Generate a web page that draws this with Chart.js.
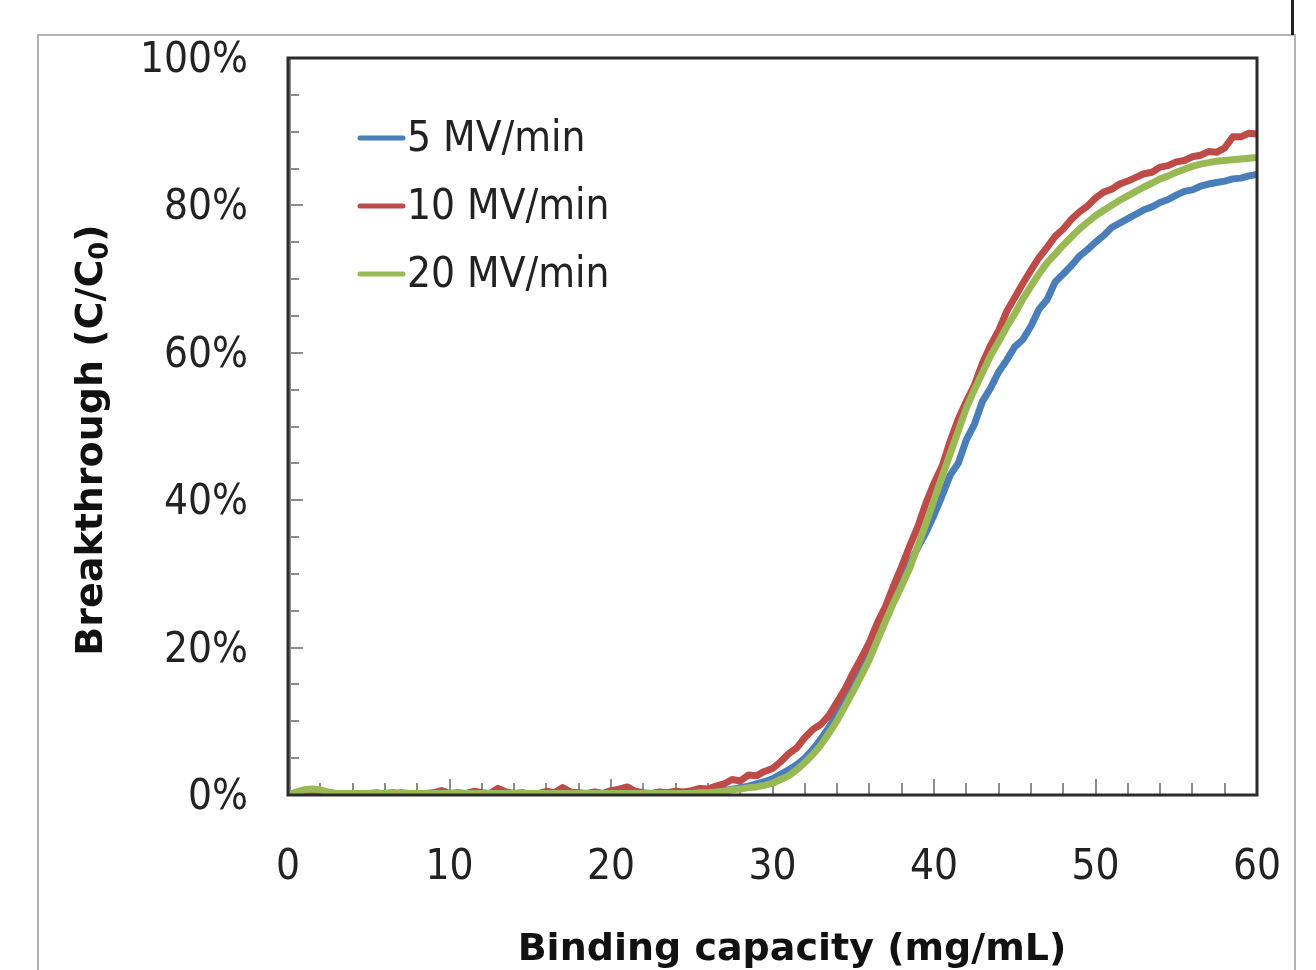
<!DOCTYPE html>
<html lang="en">
<head>
    <meta charset="utf-8" />
    <title>Breakthrough curves</title>
    <script src="https://cdn.jsdelivr.net/npm/chart.js"></script>
    <style>
        html, body { margin: 0; padding: 0; background: #fff; }
        #wrap { position: relative; width: 1316px; height: 970px; overflow: hidden; }
        .frame { position: absolute; left: 37px; top: 34px; width: 1255px; height: 1000px; border: 2px solid #b4b4b4; }
        .mark { position: absolute; left: 1291px; top: 0; width: 3px; height: 35px; background: #222; }
        canvas { position: absolute; left: 0; top: 0; }
    </style>
</head>
<body>
    <div id="wrap">
        <div class="frame"></div>
        <div class="mark"></div>
        <canvas id="chart" width="1316" height="970"></canvas>
    </div>

    <script>
        // binding capacity (mg/mL), one reading every 0.5
        const capacity = [
            0, 0.5, 1, 1.5, 2, 2.5, 3, 3.5, 4, 4.5, 5, 5.5, 6, 6.5, 7, 7.5, 8, 8.5, 9, 9.5,
            10, 10.5, 11, 11.5, 12, 12.5, 13, 13.5, 14, 14.5, 15, 15.5, 16, 16.5, 17, 17.5, 18, 18.5, 19, 19.5,
            20, 20.5, 21, 21.5, 22, 22.5, 23, 23.5, 24, 24.5, 25, 25.5, 26, 26.5, 27, 27.5, 28, 28.5, 29, 29.5,
            30, 30.5, 31, 31.5, 32, 32.5, 33, 33.5, 34, 34.5, 35, 35.5, 36, 36.5, 37, 37.5, 38, 38.5, 39, 39.5,
            40, 40.5, 41, 41.5, 42, 42.5, 43, 43.5, 44, 44.5, 45, 45.5, 46, 46.5, 47, 47.5, 48, 48.5, 49, 49.5,
            50, 50.5, 51, 51.5, 52, 52.5, 53, 53.5, 54, 54.5, 55, 55.5, 56, 56.5, 57, 57.5, 58, 58.5, 59, 59.5,
            60
        ];

        // breakthrough C/C0 in %
        const mv5 = [
            0, 0.1, 0.2, 0.3, 0.2, 0.1, 0.1, 0.2, 0.1, 0.2, 0.2, 0.3, 0.1, 0.2, 0.3, 0.2, 0.1, 0.2, 0.1, 0.2,
            0.1, 0.1, 0.2, 0.2, 0.1, 0.2, 0.1, 0.2, 0.2, 0.1, 0.2, 0.1, 0.2, 0.2, 0.1, 0.2, 0.1, 0.2, 0.1, 0.2,
            0.1, 0.2, 0.1, 0.2, 0.1, 0.2, 0.1, 0.2, 0.2,
            0.2, 0.2, 0.3, 0.3, 0.5, 0.6, 0.8, 1.0, 1.2, 1.5,
            1.8, 2.2, 2.8, 3.4, 4.1, 5.0, 6.2, 7.6, 9.2, 10.9,
            12.9, 15.0, 17.0, 19.2, 21.6, 24.0, 26.4, 28.8, 31.4, 33.6,
            35.6, 38.0, 40.6, 43.4, 45.0, 48.2, 50.3, 53.4, 55.2, 57.4,
            59.0, 60.8, 61.8, 63.6, 65.9, 67.2, 69.6, 70.7, 71.8, 73.1,
            74.0, 75.0, 75.9, 77.0, 77.6, 78.2, 78.8, 79.4, 79.8, 80.4,
            80.8, 81.4, 81.9, 82.1, 82.6, 82.9, 83.1, 83.3, 83.6, 83.7,
            84.0, 84.2
        ];
        const mv10 = [
            0, 0.2, 0.3, 0.2, 0.1, 0.1, 0.1, 0.1, 0.1, 0.2, 0.1, 0.1, 0.2, 0.3, 0.1, 0.2, 0.1, 0.2, 0.3, 0.6,
            0.2, 0.3, 0.2, 0.5, 0.3, 0.2, 0.9, 0.4, 0.2, 0.3, 0.1, 0.2, 0.5, 0.3, 1.0, 0.4, 0.3, 0.2, 0.4, 0.2,
            0.6, 0.8, 1.1, 0.5, 0.3, 0.2, 0.4, 0.3, 0.5,
            0.4, 0.6, 0.9, 0.8, 1.2, 1.5, 2.1, 1.9, 2.7, 2.6,
            3.2, 3.6, 4.5, 5.6, 6.4, 7.8, 8.9, 9.6, 10.8, 12.6,
            14.4, 16.6, 18.6, 20.7, 23.4, 25.6, 28.4, 31.0, 33.8, 36.4,
            39.6, 42.3, 44.6, 48.0, 51.0, 53.4, 55.6, 58.6, 61.0, 63.0,
            65.6, 67.5, 69.4, 71.2, 72.9, 74.3, 75.8, 76.8, 78.1, 79.1,
            79.9, 81.0, 81.8, 82.2, 82.9, 83.3, 83.8, 84.3, 84.5, 85.2,
            85.4, 85.9, 86.1, 86.6, 86.8, 87.3, 87.2, 87.8, 89.3, 89.3,
            89.8, 89.7
        ];
        const mv20 = [
            0, 0.4, 0.7, 0.8, 0.7, 0.4, 0.2, 0.2, 0.2, 0.2, 0.2, 0.2, 0.2, 0.2, 0.2, 0.2, 0.2, 0.2, 0.2, 0.2,
            0.2, 0.2, 0.2, 0.2, 0.2, 0.2, 0.2, 0.2, 0.2, 0.2, 0.2, 0.2, 0.2, 0.2, 0.2, 0.2, 0.2, 0.2, 0.2, 0.2,
            0.2, 0.2, 0.2, 0.2, 0.2, 0.2, 0.2, 0.2, 0.2,
            0.2, 0.2, 0.3, 0.3, 0.4, 0.5, 0.7, 0.8, 1.0, 1.1,
            1.3, 1.6, 2.1, 2.6, 3.4, 4.4, 5.5, 6.8, 8.4, 10.1,
            12.1, 14.1, 16.2, 18.4, 21.0, 23.6, 26.1, 28.4, 30.8, 33.8,
            36.8, 40.0, 43.2, 46.3, 49.4, 52.5, 55.0, 57.3, 59.6, 61.5,
            63.5, 65.3, 67.3, 69.0, 70.7, 72.2, 73.4, 74.6, 75.7, 76.8,
            77.7, 78.6, 79.3, 80.0, 80.7, 81.3, 81.9, 82.5, 83.0, 83.6,
            84.0, 84.5, 84.9, 85.3, 85.6, 85.8, 86.0, 86.1, 86.2, 86.3,
            86.4, 86.5
        ];

        const seriesNames = ['5 MV/min', '10 MV/min', '20 MV/min'];
        const seriesColors = ['#4a7ebb', '#be4b48', '#98b954'];

        const xTicksMinor = [2, 4, 6, 8, 10, 12, 14, 16, 18, 20, 22, 24, 26, 28, 30, 32, 34, 36, 38, 40, 42, 44, 46, 48, 50, 52, 54, 56, 58];
        const yTicksMinor = [5, 10, 15, 20, 25, 30, 35, 40, 45, 50, 55, 60, 65, 70, 75, 80, 85, 90, 95];

        const xTitle = 'Binding capacity (mg/mL)';
        const yTitle = ['Breakthrough (C/C', '0', ')'];

        const tickFont = { family: '"DejaVu Sans Condensed", "DejaVu Sans", sans-serif', size: 42 };
        const boldFont = 'bold 38px "DejaVu Sans", sans-serif';

        const toPoints = vals => capacity.map((c, i) => ({ x: c, y: vals[i] }));

        // ticks inside the frame, the frame itself, legend and axis titles
        const decor = {
            id: 'decor',
            beforeDatasetsDraw(chart) {
                const { ctx, chartArea: a, scales: { x, y } } = chart;
                ctx.save();
                ctx.strokeStyle = '#8c8c8c';
                ctx.lineWidth = 2;
                ctx.beginPath();
                yTicksMinor.forEach(v => {
                    const py = Math.round(y.getPixelForValue(v));
                    ctx.moveTo(a.left, py);
                    ctx.lineTo(a.left + (v % 20 === 0 ? 15 : 11), py);
                });
                xTicksMinor.forEach(v => {
                    const px = Math.round(x.getPixelForValue(v));
                    ctx.moveTo(px, a.bottom);
                    ctx.lineTo(px, a.bottom - (v % 10 === 0 ? 16 : 12));
                });
                ctx.moveTo(a.left + 2, a.top);
                ctx.lineTo(a.left + 2, a.bottom);
                ctx.stroke();
                ctx.restore();
            },
            afterDatasetsDraw(chart) {
                const { ctx, chartArea: a } = chart;
                ctx.save();
                ctx.strokeStyle = '#2b2b2b';
                ctx.lineWidth = 3;
                ctx.strokeRect(a.left, a.top, a.right - a.left, a.bottom - a.top);
                ctx.restore();
            },
            afterDraw(chart) {
                const { ctx, chartArea: a } = chart;
                ctx.save();

                // legend
                ctx.font = '42px ' + tickFont.family;
                ctx.textBaseline = 'middle';
                ctx.textAlign = 'left';
                seriesNames.forEach((name, i) => {
                    const ly = a.top + 80 + i * 68;
                    ctx.strokeStyle = seriesColors[i];
                    ctx.lineWidth = 5;
                    ctx.lineCap = 'round';
                    ctx.beginPath();
                    ctx.moveTo(a.left + 72, ly);
                    ctx.lineTo(a.left + 115, ly);
                    ctx.stroke();
                    ctx.fillStyle = '#222';
                    ctx.fillText(name, a.left + 119, ly + 2);
                });

                // x title
                ctx.font = boldFont;
                ctx.fillStyle = '#111';
                ctx.textAlign = 'center';
                ctx.textBaseline = 'alphabetic';
                ctx.fillText(xTitle, 792, 960);

                // y title, rotated, with subscript
                ctx.translate(102, 440);
                ctx.rotate(-Math.PI / 2);
                ctx.textAlign = 'left';
                const subFont = 'bold 26px "DejaVu Sans", sans-serif';
                ctx.font = boldFont;
                const w0 = ctx.measureText(yTitle[0]).width;
                const w2 = ctx.measureText(yTitle[2]).width;
                ctx.font = subFont;
                const w1 = ctx.measureText(yTitle[1]).width;
                let cx = -(w0 + w1 + w2) / 2;
                ctx.font = boldFont;
                ctx.fillText(yTitle[0], cx, 0);
                cx += w0;
                ctx.font = subFont;
                ctx.fillText(yTitle[1], cx, 6);
                cx += w1;
                ctx.font = boldFont;
                ctx.fillText(yTitle[2], cx, 0);

                ctx.restore();
            }
        };

        new Chart(document.getElementById('chart'), {
            type: 'line',
            data: {
                datasets: seriesNames.map((name, i) => ({
                    label: name,
                    data: toPoints([mv5, mv10, mv20][i]),
                    borderColor: seriesColors[i],
                    backgroundColor: seriesColors[i],
                    borderWidth: 7,
                    pointRadius: 0,
                    tension: 0,
                    borderJoinStyle: 'round',
                    borderCapStyle: 'round',
                    order: 3 - i
                }))
            },
            options: {
                responsive: false,
                animation: false,
                devicePixelRatio: 1,
                layout: { autoPadding: false, padding: { top: 58, right: 59, left: 0, bottom: 0 } },
                plugins: {
                    legend: { display: false },
                    tooltip: { enabled: false }
                },
                scales: {
                    x: {
                        type: 'linear',
                        min: 0,
                        max: 60,
                        ticks: { stepSize: 10, padding: 48, color: '#222', font: tickFont, maxRotation: 0 },
                        grid: { display: false, drawTicks: false },
                        border: { display: false },
                        afterFit: s => { s.height = 175; s.paddingLeft = 0; s.paddingRight = 0; }
                    },
                    y: {
                        min: 0,
                        max: 100,
                        ticks: { stepSize: 20, padding: 40, labelOffset: 3, color: '#222', font: tickFont, callback: v => v + '%' },
                        grid: { display: false, drawTicks: false },
                        border: { display: false },
                        afterFit: s => { s.width = 288; s.paddingTop = 0; s.paddingBottom = 0; }
                    }
                }
            },
            plugins: [decor]
        });
    </script>
</body>
</html>
